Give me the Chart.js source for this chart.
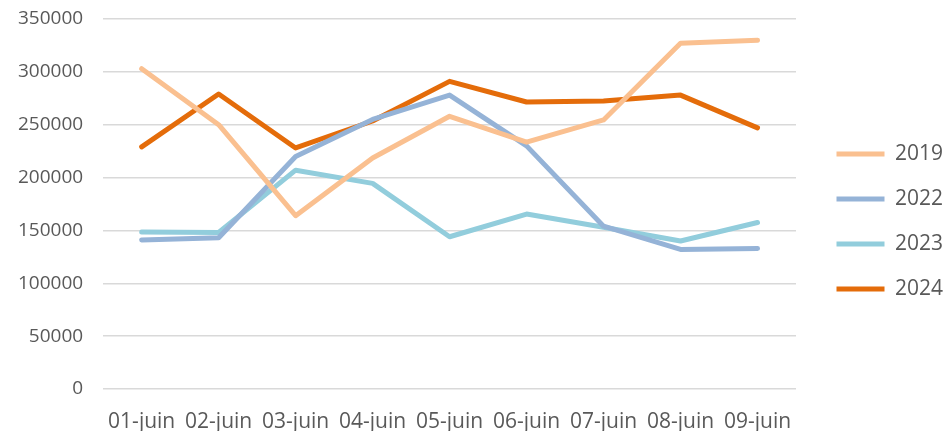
<!DOCTYPE html>
<html>
<head>
<meta charset="utf-8">
<script src="https://cdn.jsdelivr.net/npm/chart.js@4.4.0/dist/chart.umd.min.js"></script>
<style>
  html, body { margin: 0; padding: 0; background: #fff; overflow: hidden; }
  #wrap { width: 945px; height: 431px; }
</style>
</head>
<body>
<div id="wrap"><canvas id="lineChart" width="945" height="431"></canvas></div>
<script>
// categories and series
const days = ["01-juin", "02-juin", "03-juin", "04-juin", "05-juin", "06-juin", "07-juin", "08-juin", "09-juin"];
const values2019 = [303000, 250000, 164000, 218500, 258000, 233500, 254500, 327000, 330000];
const values2022 = [141000, 143000, 220000, 255000, 278000, 230000, 154000, 132000, 133000];
const values2023 = [148500, 148000, 207000, 194500, 144000, 165500, 153000, 140000, 157500];
const values2024 = [229000, 279000, 228000, 253500, 291000, 271500, 272500, 278000, 247000];
const yTicks = [0, 50000, 100000, 150000, 200000, 250000, 300000, 350000];

const textColor = "#595959";
const fontFamily = "'Open Sans', sans-serif";
const legendPadding = 24;

function makeSeries(label, data, color) {
    return {
        label: label,
        data: data,
        borderColor: color,
        backgroundColor: color,
        borderWidth: 5,
        borderCapStyle: "round",
        borderJoinStyle: "round",
        pointRadius: 0,
        pointHoverRadius: 0,
        tension: 0,
        fill: false
    };
}

// legend sits further from the plot than chart.js puts it: fix its width and shift the drawing
const legendGap = {
    id: "legendGap",
    afterInit(chart) {
        const legend = chart.legend;
        const fit = legend.fit;
        legend.fit = function () {
            fit.call(this);
            this.width = 149;
            this.right = this.left + this.width;
        };
        const draw = legend.draw;
        legend.draw = function () {
            const { left, top, bottom } = this;
            this.left = left + 40.5 - legendPadding;
            this.top = top - 3.5;
            this.bottom = bottom - 3.5;
            draw.call(this);
            this.left = left;
            this.top = top;
            this.bottom = bottom;
        };
    }
};

new Chart("lineChart", {
    type: "line",
    data: {
        labels: days,
        datasets: [
            makeSeries("2019", values2019, "#fac090"),
            makeSeries("2022", values2022, "#95b3d7"),
            makeSeries("2023", values2023, "#92cddc"),
            makeSeries("2024", values2024, "#e46c0a")
        ]
    },
    plugins: [legendGap],
    options: {
        responsive: false,
        animation: false,
        layout: { padding: { top: 19, left: -2, right: 0, bottom: 0 } },
        plugins: {
            tooltip: { enabled: false },
            legend: {
                position: "right",
                labels: {
                    usePointStyle: true,
                    pointStyle: "line",
                    pointStyleWidth: 48,
                    color: textColor,
                    font: { family: fontFamily, size: 21 },
                    padding: legendPadding
                }
            }
        },
        scales: {
            x: {
                offset: true,
                afterFit: axis => { axis.height = 42; axis.paddingBottom = 0; },
                grid: { display: false },
                border: { display: false },
                ticks: {
                    color: textColor,
                    font: { family: fontFamily, size: 21 },
                    padding: 12,
                    maxRotation: 0,
                    autoSkip: false
                }
            },
            y: {
                min: 0,
                max: 350000,
                afterBuildTicks: axis => { axis.ticks = yTicks.map(v => ({ value: v })); },
                afterFit: axis => { axis.paddingTop = 0; axis.paddingBottom = 0; },
                grid: { color: "#d9d9d9", lineWidth: 1.5, drawTicks: false },
                border: { display: false },
                ticks: {
                    color: textColor,
                    font: { family: fontFamily, size: 19 },
                    padding: 20,
                    callback: value => String(value)
                }
            }
        }
    }
});
</script>
</body>
</html>
